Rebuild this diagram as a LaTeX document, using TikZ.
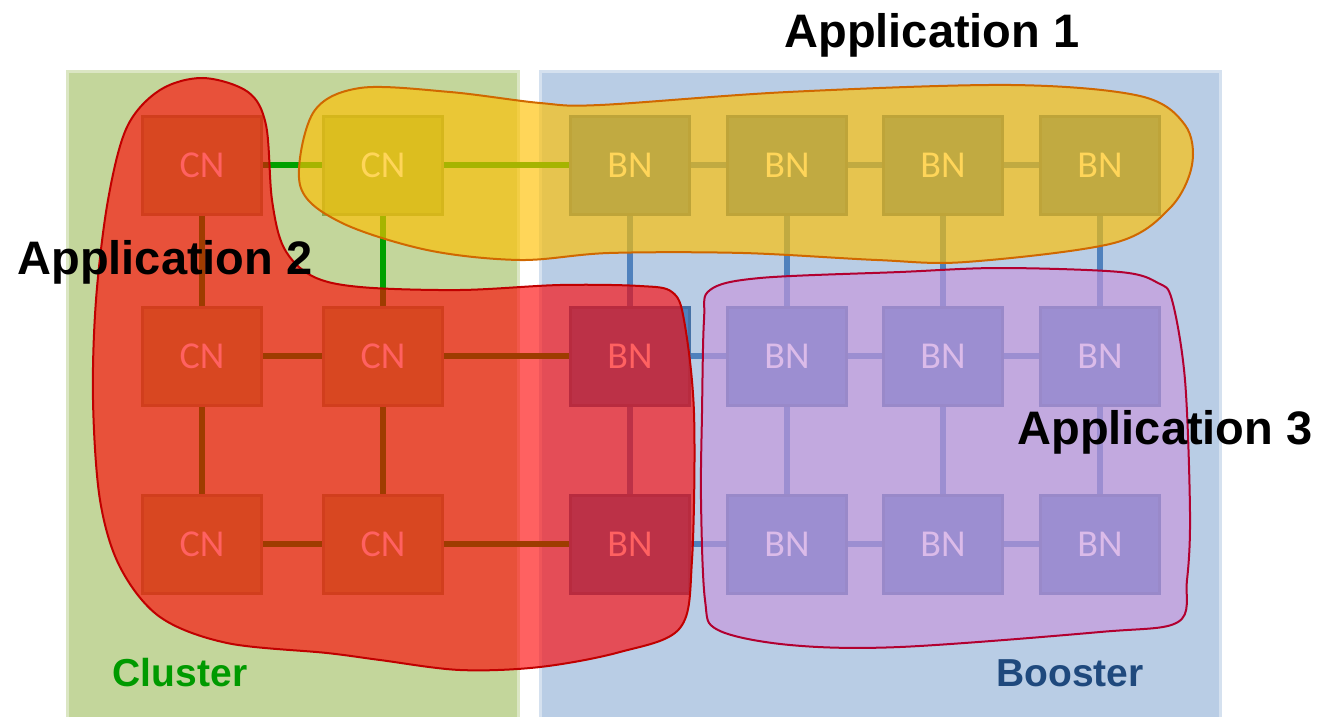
\documentclass[tikz,border=0pt]{standalone}
\usepackage{fontspec}
\setmainfont{Liberation Sans}
\newfontfamily\boxfont{Carlito}
\definecolor{clusterbg}{HTML}{C3D69B}
\definecolor{boosterbg}{HTML}{B9CDE5}
\definecolor{cnfill}{HTML}{9BBB59}
\definecolor{bnfill}{HTML}{4F81BD}
\definecolor{cnlink}{HTML}{00A000}
\definecolor{appone}{RGB}{255,192,0}
\definecolor{apptwo}{RGB}{255,0,0}
\definecolor{appthree}{RGB}{200,150,221}
\definecolor{apponeline}{RGB}{208,104,0}
\definecolor{apptwoline}{RGB}{192,0,0}
\definecolor{appthreeline}{RGB}{178,0,48}
\definecolor{clustertext}{HTML}{009A00}
\definecolor{boostertext}{HTML}{1F497D}

\begin{document}
\begin{tikzpicture}[x=1pt,y=-1pt,
  cn/.style={draw=cnfill!88!black,fill=cnfill,line width=3pt,minimum width=119pt,
    minimum height=98pt,inner sep=0pt,text=white,font=\boxfont\fontsize{38}{38}\selectfont},
  bn/.style={cn,draw=bnfill!88!black,fill=bnfill},
  cnwire/.style={draw=cnlink,line width=6pt},
  bnwire/.style={draw=bnfill,line width=6pt},
  app/.style={font=\fontsize{47}{47}\selectfont\bfseries},
  region/.style={font=\fontsize{39}{39}\selectfont\bfseries}]
\useasboundingbox (0,0) rectangle (1317,717);
% cluster and booster
\fill[clusterbg,draw=clusterbg!60!white,line width=3pt] (67,72) rectangle (518,718);
\fill[boosterbg,draw=boosterbg!60!white,line width=3pt] (540,72) rectangle (1220,718);
% cluster nodes
\node[cn] (c11) at (202,165) {CN};
\node[cn] (c12) at (383,165) {CN};
\node[cn] (c21) at (202,356) {CN};
\node[cn] (c22) at (383,356) {CN};
\node[cn] (c31) at (202,544) {CN};
\node[cn] (c32) at (383,544) {CN};
% booster nodes
\node[bn] (b11) at (630,165) {BN};
\node[bn] (b12) at (787,165) {BN};
\node[bn] (b13) at (943,165) {BN};
\node[bn] (b14) at (1100,165) {BN};
\node[bn] (b21) at (630,356) {BN};
\node[bn] (b22) at (787,356) {BN};
\node[bn] (b23) at (943,356) {BN};
\node[bn] (b24) at (1100,356) {BN};
\node[bn] (b31) at (630,544) {BN};
\node[bn] (b32) at (787,544) {BN};
\node[bn] (b33) at (943,544) {BN};
\node[bn] (b34) at (1100,544) {BN};
% links
\draw[cnwire] (c11)--(c12);
\draw[cnwire] (c21)--(c22);
\draw[cnwire] (c31)--(c32);
\draw[cnwire] (c11)--(c21);
\draw[cnwire] (c21)--(c31);
\draw[cnwire] (c12)--(c22);
\draw[cnwire] (c22)--(c32);
\draw[cnwire] (c12)--(b11);
\draw[cnwire] (c22)--(b21);
\draw[cnwire] (c32)--(b31);
\draw[bnwire] (b11)--(b12);
\draw[bnwire] (b12)--(b13);
\draw[bnwire] (b13)--(b14);
\draw[bnwire] (b21)--(b22);
\draw[bnwire] (b22)--(b23);
\draw[bnwire] (b23)--(b24);
\draw[bnwire] (b31)--(b32);
\draw[bnwire] (b32)--(b33);
\draw[bnwire] (b33)--(b34);
\draw[bnwire] (b11)--(b21);
\draw[bnwire] (b21)--(b31);
\draw[bnwire] (b12)--(b22);
\draw[bnwire] (b22)--(b32);
\draw[bnwire] (b13)--(b23);
\draw[bnwire] (b23)--(b33);
\draw[bnwire] (b14)--(b24);
\draw[bnwire] (b24)--(b34);
% applications
\filldraw[fill=appone,fill opacity=0.65,draw=apponeline,line width=2pt]
  plot[smooth cycle,tension=0.55] coordinates {(313,113) (360,88) (450,92) (540,103)
  (600,105) (788,92) (1011,85) (1140,96) (1185,125) (1192,165) (1170,208) (1114,243)
  (966,262) (877,260) (743,253) (609,253) (520,260) (427,250) (340,222) (300,185)};
\filldraw[fill=apptwo,fill opacity=0.62,draw=apptwoline,line width=2pt]
  plot[smooth cycle,tension=0.55] coordinates {(203,78) (248,92) (266,125) (272,200)
  (284,248) (312,276) (360,287) (460,290) (560,285) (640,286) (672,292) (684,320)
  (694,413) (692,560) (680,628) (620,652) (540,667) (460,670) (380,660) (327,653)
  (227,643) (160,617) (120,567) (100,500) (93,400) (96,300) (108,200) (127,127) (160,90)};
\filldraw[fill=appthree,fill opacity=0.64,draw=appthreeline,line width=2pt]
  plot[smooth cycle,tension=0.55] coordinates {(710,290) (760,278) (900,272) (1000,268)
  (1120,272) (1158,283) (1172,300) (1185,380) (1190,513) (1187,580) (1178,622)
  (1100,632) (900,647) (790,645) (718,630) (705,600) (701,500) (702,413) (704,320)};
% labels
\node[app] (a1) at (932,35) {Application 1};
\node[app] (a2) at (165,262) {Application 2};
\node[app] (a3) at (1165,432) {Application 3};
\node[region,text=clustertext] (cl) at (180,673) {Cluster};
\node[region,text=boostertext] (bo) at (1070,673) {Booster};
\end{tikzpicture}
\end{document}
